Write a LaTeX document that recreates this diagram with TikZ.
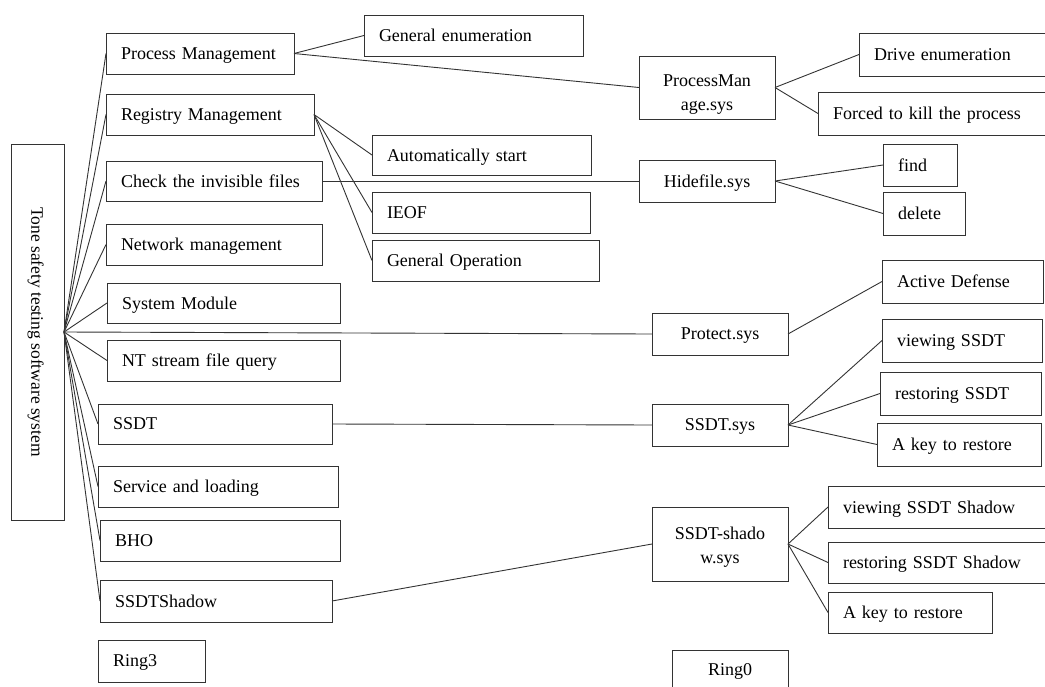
\documentclass[tikz,border=0pt]{standalone}
\usepackage{fontspec}
\setmainfont{Liberation Serif}
\begin{document}
\begin{tikzpicture}[x=1pt,y=1pt,
  box/.style={draw=black!80, line width=0.9pt, inner sep=0pt, outer sep=0pt, align=left,
    text depth=0pt, font=\fontsize{18}{21}\selectfont},
  cbox/.style={align=center},
  twoline/.style={align=center, font=\fontsize{18}{24}\selectfont},
  link/.style={draw=black!80, line width=0.9pt}]
\useasboundingbox (0,0) rectangle (1045,-686);
\newcommand{\mybox}[7][]{%
  \pgfmathsetmacro\cx{(#3+#5)/2}\pgfmathsetmacro\cy{-(#4+#6)/2}%
  \pgfmathsetmacro\bw{#5-#3}\pgfmathsetmacro\bh{#6-#4}\pgfmathsetmacro\tw{#5-#3-30}%
  \node[box, minimum width=\bw pt, minimum height=\bh pt, text width=\tw pt, #1] (#2) at (\cx,\cy) {#7};}
% root
\node[box, rotate=-90, align=center, minimum width=376pt, minimum height=53pt,
  font=\fontsize{17.5}{20}\selectfont] (root) at (37.5,-332) {Tone safety testing software system};
\coordinate (hub) at (root.north);
% left column
\mybox{pm}{106}{33}{294}{74}{Process Management}
\mybox{rm}{106}{94}{314}{135}{Registry Management}
\mybox{cif}{106}{161}{322}{201}{Check the invisible files}
\mybox{nm}{106}{224}{322}{265}{Network management}
\mybox{sm}{107}{283}{340}{323}{System Module}
\mybox{nt}{107}{340}{340}{381}{NT stream file query}
\mybox{ssdt}{98}{404}{332}{444}{SSDT}
\mybox{sl}{98}{466}{338}{507}{Service and loading}
\mybox{bho}{100}{520}{340}{561}{BHO}
\mybox{ssdts}{100}{580}{332}{622}{SSDTShadow}
\mybox{ring3}{98}{640}{205}{682}{Ring3}
% middle column
\mybox{ge}{364}{15}{583}{56}{General enumeration}
\mybox{as}{372}{135}{591}{175}{Automatically start}
\mybox{ieof}{372}{192}{590}{233}{IEOF}
\mybox{go}{372}{240}{599}{281}{General Operation}
% sys column
\mybox[twoline, text depth=14pt]{pms}{639}{56}{775}{119}{ProcessMan\\age.sys}
\mybox[cbox]{hfs}{639}{160}{775}{202}{Hidefile.sys}
\mybox[cbox]{prs}{652}{313}{788}{355}{Protect.sys}
\mybox[cbox]{sss}{652}{404}{788}{446}{SSDT.sys}
\mybox[twoline, text depth=22pt]{shs}{652}{507}{788}{581}{SSDT-shado\\w.sys}
\mybox[cbox]{ring0}{672}{650}{788}{690}{Ring0}
% right column
\mybox{de}{859}{33}{1052}{76}{Drive enumeration}
\mybox{fk}{818}{92}{1052}{135}{Forced to kill the process}
\mybox{find}{883}{144}{957}{186}{find}
\mybox{del}{883}{192}{965}{235}{delete}
\mybox{ad}{882}{260}{1043}{303}{Active Defense}
\mybox{vs}{882}{319}{1042}{362}{viewing SSDT}
\mybox{rs}{880}{372}{1041}{415}{restoring SSDT}
\mybox{ak}{877}{423}{1041}{466}{A key to restore}
\mybox{vsh}{828}{486}{1052}{528}{viewing SSDT Shadow}
\mybox{rsh}{828}{542}{1052}{583}{restoring SSDT Shadow}
\mybox{ak2}{828}{592}{992}{633}{A key to restore}
% connectors
\foreach \n in {pm,rm,cif,nm,sm,nt,ssdt,sl,bho,ssdts,prs}
  \draw[link] (hub) -- (\n.west);
\draw[link] (pm.east) -- (ge.west);
\draw[link] (pm.east) -- (pms.west);
\draw[link] (pms.east) -- (de.west);
\draw[link] (pms.east) -- (fk.west);
\draw[link] (rm.east) -- (as.west);
\draw[link] (rm.east) -- (ieof.west);
\draw[link] (rm.east) -- (go.west);
\draw[link] (cif.east) -- (hfs.west);
\draw[link] (hfs.east) -- (find.west);
\draw[link] (hfs.east) -- (del.west);
\draw[link] (prs.east) -- (ad.west);
\draw[link] (ssdt.east) -- (sss.west);
\draw[link] (sss.east) -- (vs.west);
\draw[link] (sss.east) -- (rs.west);
\draw[link] (sss.east) -- (ak.west);
\draw[link] (ssdts.east) -- (shs.west);
\draw[link] (shs.east) -- (vsh.west);
\draw[link] (shs.east) -- (rsh.west);
\draw[link] (shs.east) -- (ak2.west);
\end{tikzpicture}
\end{document}
